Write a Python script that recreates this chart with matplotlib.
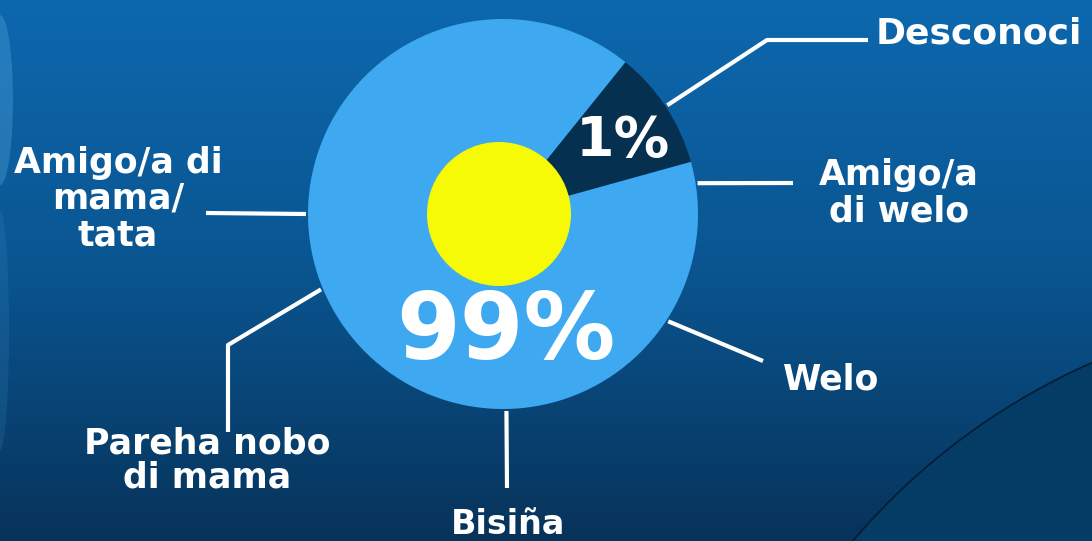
import numpy as np
import matplotlib
matplotlib.use("Agg")
import matplotlib.pyplot as plt
from matplotlib.patches import Circle, Ellipse
from matplotlib.colors import LinearSegmentedColormap

# --- data ---
slice_names = ["Desconoci", "Resto"]
slice_share = [9.9, 90.1]          # drawn share of each wedge (visual)
slice_text = ["1%", "99%"]
slice_colors = ["#06304f", "#3ea9f1"]

label_lines = [
    ["Desconoci"],
    ["Amigo/a", "di welo"],
    ["Welo"],
    ["Bisiña"],
    ["Pareha nobo", "di mama"],
    ["Amigo/a di", "mama/", "tata"],
]
label_angles = [33.5, 9.0, -33.0, -89.0, 202.5, 180.0]

W, H = 1092, 541
cx, cy, R = 503, 214, 195     # pie centre / radius in image pixels

fig = plt.figure(figsize=(W / 100, H / 100), dpi=100)
ax = fig.add_axes([0, 0, 1, 1])

# background gradient
grad = LinearSegmentedColormap.from_list("bg", ["#0d68ae", "#0a5590", "#07335a"])
ax.imshow(np.linspace(0, 1, 256).reshape(-1, 1), cmap=grad, aspect="auto",
          extent=[0, W, 0, H], zorder=0)

# decorations: big dark circle bottom right, faint light shape at left edge
ax.add_patch(Circle((1361, H - 973), 667, facecolor="#053c66", edgecolor="#031c33",
                    linewidth=1.2, zorder=1))
ax.add_patch(Ellipse((0, H - 100), 26, 170, facecolor="#5fb4ec", alpha=0.3,
                     edgecolor="none", zorder=1))
ax.add_patch(Ellipse((0, H - 330), 18, 240, facecolor="#3d8fcc", alpha=0.18,
                     edgecolor="none", zorder=1))

wedges, _ = ax.pie(slice_share, colors=slice_colors, startangle=15.5,
                   center=(cx, H - cy), radius=R, frame=True,
                   wedgeprops=dict(linewidth=0))
for w in wedges:
    w.set_zorder(3)

ax.add_patch(Circle((499, H - 214), 72, facecolor="#f6fb05", edgecolor="none", zorder=4))

font = "DejaVu Sans"
ax.text(623, H - 141, slice_text[0], color="white", fontsize=40, fontweight="bold",
        family=font, ha="center", va="center", zorder=5)
ax.text(506, H - 333, slice_text[1], color="white", fontsize=66, fontweight="bold",
        family=font, ha="center", va="center", zorder=5)

# leader lines: start on the pie edge, then the bends (image pixels)
leader_bends = [
    [(767, 40), (868, 40)],
    [(793, 183)],
    [(763, 361)],
    [(507, 488)],
    [(228, 345), (228, 432)],
    [(206, 213)],
]
for ang, bends in zip(label_angles, leader_bends):
    a = np.deg2rad(ang)
    xs = [cx + (R + 2) * np.cos(a)] + [b[0] for b in bends]
    ys = [H - cy + (R + 2) * np.sin(a)] + [H - b[1] for b in bends]
    ax.plot(xs, ys, color="white", linewidth=3, solid_capstyle="butt", zorder=2)

# label text: (x, first baseline, line step, size, alignment)
label_place = [
    (876, 43, 0, 26, "left"),
    (899, 185, 37, 25, "center"),
    (783, 389, 0, 25, "left"),
    (508, 534, 0, 24, "center"),
    (207, 453, 35, 25, "center"),
    (118, 173, 36, 25, "center"),
]
for lines, (x, y0, step, size, ha) in zip(label_lines, label_place):
    for i, line in enumerate(lines):
        ax.text(x, H - (y0 + i * step), line, color="white", fontsize=size,
                fontweight="bold", family=font, ha=ha, va="baseline", zorder=5)

ax.set_xlim(0, W)
ax.set_ylim(0, H)
ax.set_aspect("auto")
ax.axis("off")

fig.savefig("out.png", dpi=100)
